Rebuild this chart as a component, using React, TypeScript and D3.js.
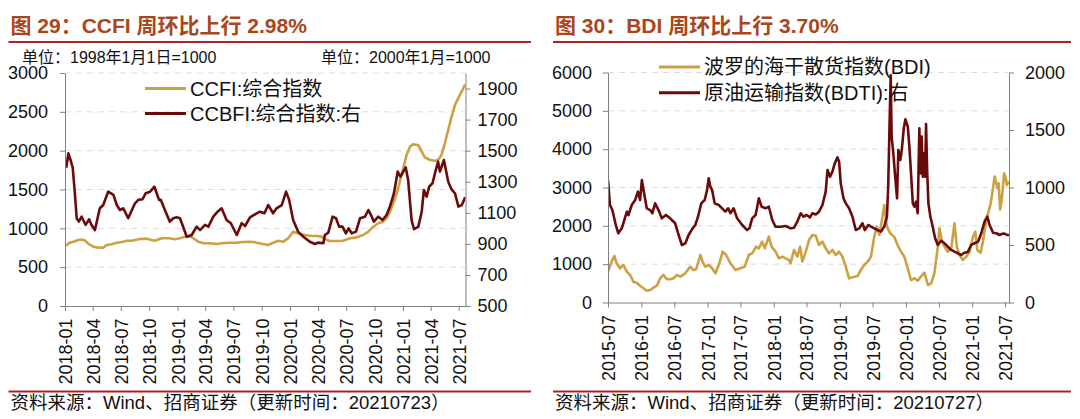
import { useEffect, useRef } from 'react';
import * as d3 from 'd3';

type Series = [string, number][];

// 图29: CCFI (left axis) / CCBFI (right axis)
const ccfiData: Series = [
  ['2018-01-05', 773], ['2018-01-12', 807], ['2018-01-28', 828], ['2018-02-13', 850], ['2018-02-24', 857],
  ['2018-03-07', 843], ['2018-03-18', 799], ['2018-04-03', 764], ['2018-04-19', 751], ['2018-05-05', 751],
  ['2018-05-16', 786], ['2018-06-01', 794], ['2018-06-18', 815], ['2018-07-09', 828], ['2018-07-20', 841],
  ['2018-08-05', 841], ['2018-09-01', 863], ['2018-09-23', 867], ['2018-10-09', 850], ['2018-10-20', 841],
  ['2018-11-10', 872], ['2018-12-02', 872], ['2018-12-24', 859], ['2019-01-09', 872], ['2019-01-25', 893],
  ['2019-02-10', 901], ['2019-02-21', 872], ['2019-03-09', 828], ['2019-03-26', 807], ['2019-04-16', 807],
  ['2019-05-08', 799], ['2019-05-24', 807], ['2019-06-15', 815], ['2019-07-12', 815], ['2019-07-28', 824],
  ['2019-08-19', 828], ['2019-09-09', 824], ['2019-09-14', 815], ['2019-10-06', 799], ['2019-10-22', 786],
  ['2019-11-07', 815], ['2019-11-24', 841], ['2019-12-10', 828], ['2019-12-26', 872], ['2020-01-11', 957],
  ['2020-02-02', 927], ['2020-02-18', 914], ['2020-03-11', 901], ['2020-03-27', 901], ['2020-04-12', 893],
  ['2020-04-23', 859], ['2020-05-09', 837], ['2020-05-31', 837], ['2020-06-21', 841], ['2020-07-13', 872],
  ['2020-08-04', 884], ['2020-08-25', 914], ['2020-09-11', 957], ['2020-09-27', 1021], ['2020-10-13', 1065],
  ['2020-10-29', 1086], ['2020-11-09', 1129], ['2020-11-20', 1215], ['2020-12-01', 1323], ['2020-12-12', 1451],
  ['2020-12-22', 1601], ['2021-01-02', 1773], ['2021-01-13', 1945], ['2021-01-24', 2052], ['2021-02-03', 2083],
  ['2021-02-20', 2070], ['2021-03-03', 1987], ['2021-03-13', 1915], ['2021-03-30', 1880], ['2021-04-15', 1871],
  ['2021-04-25', 1880], ['2021-05-06', 1945], ['2021-05-17', 2095], ['2021-05-28', 2267], ['2021-06-08', 2438],
  ['2021-06-19', 2589], ['2021-07-05', 2720], ['2021-07-22', 2850],
];

const ccbfiData: Series = [
  ['2018-01-05', 1390], ['2018-01-12', 1483], ['2018-01-19', 1440], ['2018-01-26', 1390], ['2018-02-01', 1250],
  ['2018-02-08', 1065], ['2018-02-15', 1043], ['2018-02-24', 1075], ['2018-03-01', 1054], ['2018-03-09', 1022],
  ['2018-03-20', 1058], ['2018-03-28', 1022], ['2018-04-08', 989], ['2018-04-24', 1129], ['2018-05-05', 1150],
  ['2018-05-21', 1236], ['2018-06-07', 1215], ['2018-06-18', 1150], ['2018-06-28', 1118], ['2018-07-09', 1129],
  ['2018-07-25', 1065], ['2018-08-16', 1161], ['2018-08-27', 1183], ['2018-09-09', 1187], ['2018-09-20', 1226],
  ['2018-10-04', 1236], ['2018-10-18', 1268], ['2018-11-02', 1183], ['2018-11-08', 1183], ['2018-11-21', 1118],
  ['2018-12-07', 1043], ['2018-12-18', 1065], ['2018-12-29', 1071], ['2019-01-09', 1065], ['2019-01-31', 946],
  ['2019-02-16', 957], ['2019-03-04', 1011], ['2019-03-15', 989], ['2019-03-31', 1022], ['2019-04-11', 1011],
  ['2019-04-27', 1075], ['2019-05-11', 1107], ['2019-05-24', 1129], ['2019-06-09', 1054], ['2019-06-23', 1033],
  ['2019-07-12', 957], ['2019-07-28', 1033], ['2019-08-08', 1015], ['2019-08-24', 1071], ['2019-09-09', 1090],
  ['2019-09-25', 1107], ['2019-10-10', 1097], ['2019-10-22', 1150], ['2019-11-07', 1097], ['2019-11-18', 1129],
  ['2019-12-05', 1150], ['2019-12-19', 1236], ['2019-12-29', 1183], ['2020-01-11', 1054], ['2020-01-27', 979],
  ['2020-02-13', 946], ['2020-03-05', 914], ['2020-03-22', 899], ['2020-04-01', 908], ['2020-04-18', 904],
  ['2020-04-23', 957], ['2020-05-04', 972], ['2020-05-18', 1075], ['2020-05-29', 1065], ['2020-06-08', 1011],
  ['2020-06-19', 1011], ['2020-06-30', 968], ['2020-07-09', 1000], ['2020-07-19', 968], ['2020-08-02', 979],
  ['2020-08-15', 1065], ['2020-08-31', 1075], ['2020-09-11', 1118], ['2020-09-22', 1075], ['2020-09-29', 1043],
  ['2020-10-13', 1075], ['2020-10-27', 1054], ['2020-11-09', 1086], ['2020-11-20', 1140], ['2020-12-03', 1226],
  ['2020-12-15', 1365], ['2020-12-24', 1333], ['2021-01-10', 1393], ['2021-01-18', 1311], ['2021-01-29', 1054],
  ['2021-02-06', 994], ['2021-02-20', 1011], ['2021-03-03', 1107], ['2021-03-10', 1247], ['2021-03-19', 1204],
  ['2021-03-27', 1268], ['2021-04-07', 1290], ['2021-04-15', 1355], ['2021-04-25', 1429], ['2021-05-01', 1365],
  ['2021-05-14', 1440], ['2021-05-28', 1300], ['2021-06-08', 1250], ['2021-06-19', 1225], ['2021-06-30', 1140],
  ['2021-07-11', 1150], ['2021-07-22', 1200],
];

// 图30: BDI (left axis) / BDTI (right axis)
const bdiData: Series = [
  ['2015-07-01', 804], ['2015-07-21', 1065], ['2015-08-05', 1213], ['2015-08-18', 1022], ['2015-09-05', 892],
  ['2015-09-24', 978], ['2015-10-13', 804], ['2015-10-31', 717], ['2015-11-18', 543], ['2015-12-07', 517],
  ['2015-12-25', 439], ['2016-01-13', 370], ['2016-01-31', 308], ['2016-02-19', 326], ['2016-03-08', 387],
  ['2016-03-27', 439], ['2016-04-14', 631], ['2016-05-02', 717], ['2016-05-21', 605], ['2016-06-08', 605],
  ['2016-06-27', 631], ['2016-07-16', 717], ['2016-08-03', 674], ['2016-08-31', 761], ['2016-09-26', 935],
  ['2016-10-15', 848], ['2016-10-30', 870], ['2016-11-22', 1239], ['2016-12-04', 1065], ['2016-12-19', 935],
  ['2017-01-07', 978], ['2017-01-26', 892], ['2017-02-13', 761], ['2017-03-07', 1022], ['2017-03-25', 1326],
  ['2017-04-13', 1239], ['2017-05-07', 1022], ['2017-06-04', 848], ['2017-07-01', 892], ['2017-07-25', 935],
  ['2017-08-16', 1239], ['2017-09-04', 1283], ['2017-09-26', 1457], ['2017-10-11', 1413], ['2017-10-29', 1587],
  ['2017-11-13', 1413], ['2017-12-05', 1717], ['2017-12-20', 1457], ['2018-01-11', 1326], ['2018-01-30', 1152],
  ['2018-02-17', 1196], ['2018-03-08', 1152], ['2018-03-26', 1109], ['2018-04-04', 1022], ['2018-04-23', 1370],
  ['2018-05-11', 1196], ['2018-05-27', 1457], ['2018-06-08', 1065], ['2018-06-27', 1326], ['2018-07-15', 1631],
  ['2018-08-03', 1761], ['2018-08-21', 1740], ['2018-09-08', 1500], ['2018-09-27', 1587], ['2018-10-15', 1413],
  ['2018-11-02', 1283], ['2018-11-21', 1370], ['2018-12-09', 1239], ['2018-12-28', 1326], ['2019-01-15', 1196],
  ['2019-02-03', 935], ['2019-02-21', 631], ['2019-03-12', 657], ['2019-04-09', 691], ['2019-04-27', 848],
  ['2019-05-16', 978], ['2019-06-04', 1065], ['2019-06-22', 1196], ['2019-07-10', 1717], ['2019-07-25', 1978],
  ['2019-08-07', 1761], ['2019-08-20', 2109], ['2019-09-03', 2544], ['2019-09-18', 1978], ['2019-10-06', 1805],
  ['2019-10-28', 1717], ['2019-11-16', 1500], ['2019-12-05', 1326], ['2019-12-23', 1196], ['2020-01-11', 892],
  ['2020-01-29', 587], ['2020-02-17', 631], ['2020-03-06', 569], ['2020-03-24', 674], ['2020-04-12', 778],
  ['2020-05-01', 457], ['2020-05-19', 500], ['2020-06-06', 761], ['2020-06-25', 1457], ['2020-07-04', 1935],
  ['2020-07-17', 1631], ['2020-08-01', 1457], ['2020-08-19', 1326], ['2020-09-07', 1413], ['2020-09-25', 2066],
  ['2020-10-08', 1457], ['2020-10-23', 1239], ['2020-11-10', 1109], ['2020-11-29', 1196], ['2020-12-17', 1326],
  ['2021-01-05', 1717], ['2021-01-18', 1848], ['2021-01-29', 1370], ['2021-02-16', 1300], ['2021-03-01', 1587],
  ['2021-03-20', 2152], ['2021-04-13', 2588], ['2021-05-05', 3283], ['2021-05-20', 2979], ['2021-05-27', 3109],
  ['2021-06-04', 2430], ['2021-06-12', 2650], ['2021-06-19', 3000], ['2021-06-26', 3373], ['2021-07-05', 3250],
  ['2021-07-11', 3066], ['2021-07-23', 3154],
];

const bdtiData: Series = [
  ['2015-07-01', 1065], ['2015-07-12', 848], ['2015-07-25', 804], ['2015-08-13', 674], ['2015-08-27', 602],
  ['2015-09-15', 645], ['2015-09-29', 717], ['2015-10-13', 790], ['2015-10-22', 760], ['2015-11-09', 848],
  ['2015-11-28', 891], ['2015-12-13', 964], ['2015-12-25', 891], ['2016-01-04', 1065], ['2016-01-18', 935],
  ['2016-01-31', 819], ['2016-02-19', 804], ['2016-03-02', 776], ['2016-03-17', 862], ['2016-04-05', 804],
  ['2016-04-23', 732], ['2016-05-16', 761], ['2016-06-08', 732], ['2016-07-06', 689], ['2016-07-25', 587],
  ['2016-08-12', 500], ['2016-08-31', 515], ['2016-09-18', 587], ['2016-10-10', 645], ['2016-10-25', 674],
  ['2016-11-09', 746], ['2016-11-27', 862], ['2016-12-16', 891], ['2016-12-29', 978], ['2017-01-07', 1080],
  ['2017-01-16', 1007], ['2017-01-26', 978], ['2017-02-09', 862], ['2017-03-03', 848], ['2017-03-22', 819],
  ['2017-04-09', 790], ['2017-04-24', 819], ['2017-05-07', 776], ['2017-05-25', 819], ['2017-06-13', 732],
  ['2017-07-11', 674], ['2017-08-07', 630], ['2017-08-20', 645], ['2017-09-04', 732], ['2017-09-23', 761],
  ['2017-10-11', 906], ['2017-10-26', 833], ['2017-11-17', 819], ['2017-12-05', 833], ['2017-12-24', 717],
  ['2018-01-11', 659], ['2018-02-08', 659], ['2018-03-08', 665], ['2018-04-04', 645], ['2018-04-23', 650],
  ['2018-05-11', 703], ['2018-05-30', 776], ['2018-06-14', 746], ['2018-07-02', 761], ['2018-07-20', 740],
  ['2018-08-03', 776], ['2018-08-21', 765], ['2018-09-08', 790], ['2018-09-27', 848], ['2018-10-15', 964],
  ['2018-10-25', 1152], ['2018-11-08', 1094], ['2018-11-21', 1138], ['2018-12-04', 1210], ['2018-12-19', 1262],
  ['2018-12-28', 1225], ['2019-01-06', 1036], ['2019-01-21', 906], ['2019-02-03', 862], ['2019-02-21', 819],
  ['2019-03-12', 746], ['2019-03-30', 630], ['2019-04-18', 645], ['2019-05-06', 689], ['2019-05-19', 630],
  ['2019-06-07', 674], ['2019-06-22', 660], ['2019-07-10', 645], ['2019-07-29', 630], ['2019-08-16', 616],
  ['2019-09-03', 660], ['2019-09-18', 746], ['2019-09-25', 1007], ['2019-10-03', 1587], ['2019-10-09', 1975],
  ['2019-10-14', 1442], ['2019-10-25', 1268], ['2019-11-01', 1123], ['2019-11-13', 906], ['2019-11-20', 1326],
  ['2019-12-01', 1239], ['2019-12-09', 1326], ['2019-12-20', 1515], ['2019-12-29', 1593], ['2020-01-11', 1529],
  ['2020-01-20', 1355], ['2020-01-29', 1123], ['2020-02-08', 862], ['2020-02-17', 833], ['2020-02-26', 877],
  ['2020-03-06', 776], ['2020-03-15', 1515], ['2020-03-21', 1123], ['2020-03-28', 1442], ['2020-04-03', 1094],
  ['2020-04-08', 1297], ['2020-04-16', 1094], ['2020-04-21', 1552], ['2020-04-27', 1152], ['2020-05-04', 862],
  ['2020-05-15', 746], ['2020-05-28', 659], ['2020-06-10', 558], ['2020-06-25', 500], ['2020-07-13', 537],
  ['2020-08-01', 515], ['2020-08-19', 485], ['2020-09-07', 457], ['2020-09-25', 442], ['2020-10-14', 428],
  ['2020-11-01', 413], ['2020-11-19', 433], ['2020-12-08', 440], ['2020-12-26', 500], ['2021-01-14', 515],
  ['2021-02-02', 529], ['2021-02-20', 602], ['2021-03-10', 703], ['2021-03-25', 746], ['2021-04-07', 674],
  ['2021-04-26', 607], ['2021-05-14', 602], ['2021-06-01', 587], ['2021-06-11', 595], ['2021-06-25', 600],
  ['2021-07-10', 590], ['2021-07-23', 584],
];

const leftDateTicks = ['2018-01', '2018-04', '2018-07', '2018-10', '2019-01', '2019-04', '2019-07', '2019-10',
  '2020-01', '2020-04', '2020-07', '2020-10', '2021-01', '2021-04', '2021-07'];
const rightDateTicks = ['2015-07', '2016-01', '2016-07', '2017-01', '2017-07', '2018-01', '2018-07', '2019-01',
  '2019-07', '2020-01', '2020-07', '2021-01', '2021-07'];
const ccfiTicks = [0, 500, 1000, 1500, 2000, 2500, 3000];
const ccbfiTicks = [500, 700, 900, 1100, 1300, 1500, 1700, 1900];
const bdiTicks = [0, 1000, 2000, 3000, 4000, 5000, 6000];
const bdtiTicks = [0, 500, 1000, 1500, 2000];

const FONT = '"Liberation Sans", Arial, "Noto Sans CJK SC", sans-serif';
const GOLD = '#CDA043';
const MAROON = '#6B0A0A';
const AXIS = '#808080';
const TITLE = '#A8461C';
const RULE = '#A8262A';

const parseDay = d3.timeParse('%Y-%m-%d');
const parseMonth = d3.timeParse('%Y-%m');

interface Panel {
  key: string;
  title: string;
  footer: string;
  units: [string, number][];
  left: Series;
  right: Series;
  leftName: string;
  rightName: string;
  dateDomain: [string, string];
  dateTicks: string[];
  leftTicks: number[];
  rightTicks: number[];
  rightMax: number;
  x0: number; x1: number; yTop: number; yBottom: number;
  rule0: number; rule1: number;
  leftPad: number; rightPad: number;
  legendX: number; legendY: [number, number];
}

const panels: Panel[] = [
  {
    key: 'p29', title: '图 29：CCFI 周环比上行 2.98%', footer: '资料来源：Wind、招商证券（更新时间：20210723）',
    units: [['单位：1998年1月1日=1000', 22], ['单位：2000年1月=1000', 321]],
    left: ccfiData, right: ccbfiData, leftName: 'CCFI:综合指数', rightName: 'CCBFI:综合指数:右',
    dateDomain: ['2018-01-01', '2021-07-23'], dateTicks: leftDateTicks, leftTicks: ccfiTicks, rightTicks: ccbfiTicks,
    rightMax: 2000,
    x0: 65, x1: 465.5, yTop: 73, yBottom: 306, rule0: 8.5, rule1: 531, leftPad: 12, rightPad: 7,
    legendX: 145, legendY: [88.5, 113.5],
  },
  {
    key: 'p30', title: '图 30：BDI 周环比上行 3.70%', footer: '资料来源：Wind、招商证券（更新时间：20210727）',
    units: [],
    left: bdiData, right: bdtiData, leftName: '波罗的海干散货指数(BDI)', rightName: '原油运输指数(BDTI):右',
    dateDomain: ['2015-07-01', '2021-07-23'], dateTicks: rightDateTicks, leftTicks: bdiTicks, rightTicks: bdtiTicks,
    rightMax: 2000,
    x0: 608, x1: 1009, yTop: 72.5, yBottom: 302.5, rule0: 553, rule1: 1071, leftPad: 11, rightPad: 11,
    legendX: 659, legendY: [67, 92.7],
  },
];

function drawPanel(svg: d3.Selection<SVGSVGElement, unknown, null, undefined>, p: Panel) {
  const g = svg.append('g');
  const x = d3.scaleTime()
    .domain(p.dateDomain.map((d) => parseDay(d) as Date))
    .range([p.x0, p.x1]);
  const yL = d3.scaleLinear().domain([p.leftTicks[0], p.leftTicks[p.leftTicks.length - 1]]).range([p.yBottom, p.yTop]);
  const yR = d3.scaleLinear().domain([p.rightTicks[0], p.rightMax]).range([p.yBottom, p.yTop]);

  // title + rules
  g.append('text').attr('x', p.rule0 + 2).attr('y', 33).text(p.title)
    .attr('font-family', FONT).attr('font-size', 21).attr('font-weight', 'bold').attr('fill', TITLE);
  g.append('line').attr('x1', p.rule0).attr('x2', p.rule1).attr('y1', 42).attr('y2', 42)
    .attr('stroke', RULE).attr('stroke-width', 2);
  g.append('line').attr('x1', p.rule0).attr('x2', p.rule1).attr('y1', 391.5).attr('y2', 391.5)
    .attr('stroke', RULE).attr('stroke-width', 2);
  g.append('text').attr('x', p.rule0 + 2).attr('y', 409).text(p.footer)
    .attr('font-family', FONT).attr('font-size', 18.5).attr('fill', '#111');

  p.units.forEach(([t, ux]) => {
    g.append('text').attr('x', ux).attr('y', 63).text(t)
      .attr('font-family', FONT).attr('font-size', 16).attr('fill', '#111');
  });

  // gridlines
  g.append('g').selectAll('line').data(p.leftTicks.slice(1)).join('line')
    .attr('x1', p.x0).attr('x2', p.x1).attr('y1', (d) => yL(d)).attr('y2', (d) => yL(d))
    .attr('stroke', '#dcdcdc').attr('stroke-dasharray', '6,5');

  // lines
  const clipId = `clip-${p.key}`;
  svg.append('defs').append('clipPath').attr('id', clipId).append('rect')
    .attr('x', p.x0).attr('y', p.yTop - 20).attr('width', p.x1 - p.x0).attr('height', p.yBottom - p.yTop + 20);

  const lineL = d3.line<[string, number]>().x((d) => x(parseDay(d[0]) as Date)).y((d) => yL(d[1]));
  const lineR = d3.line<[string, number]>().x((d) => x(parseDay(d[0]) as Date)).y((d) => yR(d[1]));
  const lines = g.append('g').attr('clip-path', `url(#${clipId})`);
  lines.append('path').datum(p.left).attr('d', lineL).attr('fill', 'none')
    .attr('stroke', GOLD).attr('stroke-width', 2.6).attr('stroke-linejoin', 'round');
  lines.append('path').datum(p.right).attr('d', lineR).attr('fill', 'none')
    .attr('stroke', MAROON).attr('stroke-width', 2.6).attr('stroke-linejoin', 'round');

  // axes
  const styleAxis = (a: d3.Selection<SVGGElement, unknown, null, undefined>) => {
    a.select('.domain').attr('stroke', AXIS);
    a.selectAll('.tick line').attr('stroke', AXIS);
    a.selectAll('.tick text').attr('font-family', FONT).attr('font-size', 18).attr('fill', '#111');
  };
  const plain = (d: d3.NumberValue) => String(d);

  const ax = g.append('g').attr('transform', `translate(0,${p.yBottom})`)
    .call(d3.axisBottom(x).tickValues(p.dateTicks.map((d) => parseMonth(d) as Date))
      .tickFormat((d) => d3.timeFormat('%Y-%m')(d as Date)).tickSize(5).tickSizeOuter(0));
  styleAxis(ax);
  ax.selectAll('.tick text').attr('transform', 'rotate(-90)').attr('text-anchor', 'end')
    .attr('x', -12.5).attr('y', 0).attr('dy', '0.36em');

  const al = g.append('g').attr('transform', `translate(${p.x0},0)`)
    .call(d3.axisLeft(yL).tickValues(p.leftTicks).tickFormat(plain).tickSize(5).tickPadding(p.leftPad).tickSizeOuter(0));
  styleAxis(al);
  const ar = g.append('g').attr('transform', `translate(${p.x1},0)`)
    .call(d3.axisRight(yR).tickValues(p.rightTicks).tickFormat(plain).tickSize(5).tickPadding(p.rightPad).tickSizeOuter(0));
  styleAxis(ar);

  // legend
  [[p.leftName, GOLD], [p.rightName, MAROON]].forEach(([name, color], i) => {
    const ly = p.legendY[i];
    g.append('line').attr('x1', p.legendX).attr('x2', p.legendX + 41).attr('y1', ly).attr('y2', ly)
      .attr('stroke', color).attr('stroke-width', 3);
    g.append('text').attr('x', p.legendX + 45).attr('y', ly).attr('dy', '0.35em').text(name)
      .attr('font-family', FONT).attr('font-size', 20).attr('fill', '#111');
  });
}

export default function App() {
  const ref = useRef<SVGSVGElement>(null);

  useEffect(() => {
    if (!ref.current) return;
    document.body.style.margin = '0';
    const svg = d3.select(ref.current);
    svg.selectAll('*').remove();
    svg.append('rect').attr('width', 1080).attr('height', 419).attr('fill', '#fff');
    panels.forEach((p) => drawPanel(svg, p));
  }, []);

  return <svg ref={ref} width={1080} height={419} style={{ display: 'block' }} />;
}
